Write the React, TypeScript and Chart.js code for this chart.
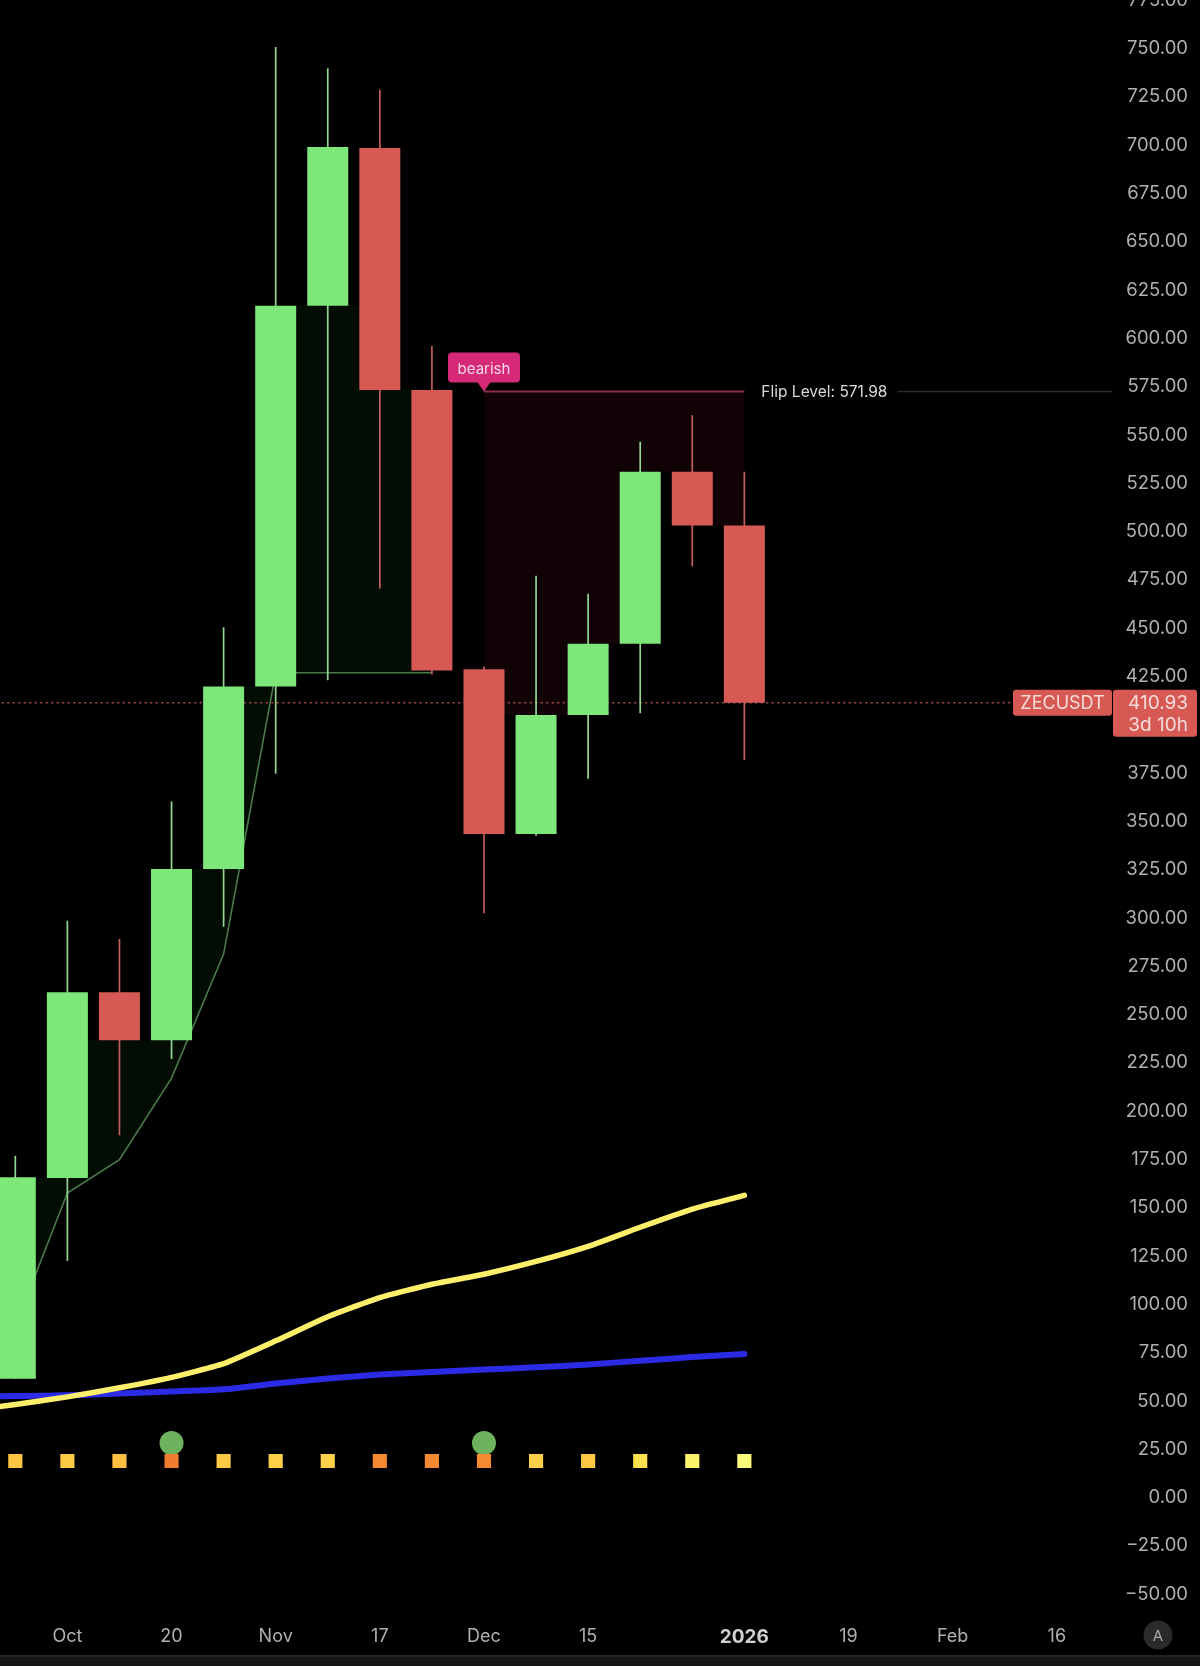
import { useEffect, useRef } from "react"
import { Chart, registerables } from "chart.js"

Chart.register(...registerables)

const candleIndex = [0, 1, 2, 3, 4, 5, 6, 7, 8, 9, 10, 11, 12, 13, 14]
const opens = [61, 164.9, 261, 236.2, 324.8, 419.3, 616.4, 698, 572.8, 428.2, 343, 404.6, 441.4, 530.5, 502.6]
const closes = [165.3, 261, 236.2, 324.8, 419.3, 616.4, 698.5, 572.8, 427.6, 343, 404.6, 441.4, 530.5, 502.6, 410.93]
const highs = [176.4, 298.1, 288.6, 359.8, 450, 750.3, 739.3, 728.2, 595.5, 429.6, 476.6, 467.3, 546, 559.7, 530.5]
const lows = [61, 121.9, 187, 226.5, 294.9, 374.2, 422.5, 470, 425.5, 302, 342, 371.5, 405.5, 481.5, 381.3]

const maFast = [47.7, 51.6, 56.3, 61.7, 68.8, 80.6, 93.1, 103, 109.9, 115.1, 121.7, 129.5, 139.4, 148.8, 155.9]
const maSlow = [52, 52.5, 53.3, 54.4, 55.5, 58.5, 61.1, 63.2, 64.5, 65.8, 66.9, 68.4, 70.3, 72.2, 73.8]
const maFastStart = 44.1
const maSlowStart = 52

const trendLine = [88, 157.1, 174.4, 216.6, 280.8, 426.4, 426.4, 426.4, 426.4]

const squareColors = [
  "#fcc644", "#fdca46", "#fdc040", "#f07c30", "#fdc844",
  "#fdd048", "#fdd24a", "#f58a33", "#f58a33", "#f58a33",
  "#fdd04a", "#fdc844", "#fde04e", "#fdf46e", "#fdf97a",
]
const signalIndex = [3, 9]

const flipLevel = 571.98
const flipStart = 9
const flipEnd = 14
const lastPrice = 410.93

const priceTicks = [
  -50, -25, 0, 25, 50, 75, 100, 125, 150, 175, 200, 225, 250, 275, 300, 325, 350, 375, 400,
  425, 450, 475, 500, 525, 550, 575, 600, 625, 650, 675, 700, 725, 750, 775,
]
const timeTickIndex = [1, 3, 5, 7, 9, 11, 14, 16, 18, 20]
const timeTickLabels = ["Oct", "20", "Nov", "17", "Dec", "15", "2026", "19", "Feb", "16"]

const GREEN = "#7de77a"
const RED = "#d65a53"
const FONT = "Inter"

const bodyLow = opens.map((o, i) => Math.min(o, closes[i]))
const bodyHigh = opens.map((o, i) => Math.max(o, closes[i]))
const candleColor = opens.map((o, i) => (closes[i] >= o ? GREEN : RED))
const wickColor = opens.map((o, i) => (closes[i] >= o ? "#93d690" : "#c0605c"))

// the clouds run between a line and the candle bodies, held flat across each gap
const bullEdge = trendLine.map((_, i) => Math.max(bodyLow[i], bodyLow[i + 1]))
const bearIndex = candleIndex.filter((i) => i >= flipStart && i <= flipEnd)
const bearEdge = bearIndex.map((i) => (i < flipEnd ? Math.min(bodyHigh[i], bodyHigh[i + 1]) : bodyHigh[i]))

// tags, labels and the bottom bar are not datasets
const overlay = {
  id: "overlay",
  afterDraw(chart: any) {
    const { ctx, scales, width, height } = chart
    const x = scales.x
    const y = scales.y
    ctx.save()

    // bottom bar
    ctx.fillStyle = "#161616"
    ctx.fillRect(0, height - 11, width, 11)
    ctx.fillStyle = "#242424"
    ctx.fillRect(0, height - 11, width, 2)

    // bearish marker
    const tipX = x.getPixelForValue(flipStart)
    const tipY = y.getPixelForValue(flipLevel)
    ctx.fillStyle = "#d62a78"
    ctx.beginPath()
    ctx.roundRect(tipX - 36, tipY - 39, 72, 30, 4)
    ctx.fill()
    ctx.beginPath()
    ctx.moveTo(tipX - 7, tipY - 10)
    ctx.lineTo(tipX, tipY)
    ctx.lineTo(tipX + 7, tipY - 10)
    ctx.fill()
    ctx.fillStyle = "#f6d5e4"
    ctx.font = `15px ${FONT}`
    ctx.textAlign = "center"
    ctx.textBaseline = "middle"
    ctx.fillText("bearish", tipX, tipY - 22)

    // flip level text
    ctx.fillStyle = "#d8d8d8"
    ctx.font = `15.5px ${FONT}`
    ctx.textAlign = "left"
    ctx.fillText("Flip Level: 571.98", x.getPixelForValue(flipEnd) + 17, tipY + 1)

    // last price tags
    const py = y.getPixelForValue(lastPrice)
    ctx.fillStyle = RED
    ctx.beginPath()
    ctx.roundRect(1013, py - 13, 99, 26, 3)
    ctx.fill()
    ctx.beginPath()
    ctx.roundRect(1113, py - 13, 84, 47, 3)
    ctx.fill()
    ctx.fillStyle = "#f5dcda"
    ctx.font = `18px ${FONT}`
    ctx.textAlign = "center"
    ctx.fillText("ZECUSDT", 1062.5, py + 1)
    ctx.font = `19px ${FONT}`
    ctx.textAlign = "right"
    ctx.fillText("410.93", 1188, py + 1)
    ctx.fillText("3d 10h", 1188, py + 23)

    // auto scale button
    const by = height - 31
    ctx.fillStyle = "#2a2a2a"
    ctx.beginPath()
    ctx.arc(1158, by, 14.5, 0, Math.PI * 2)
    ctx.fill()
    ctx.fillStyle = "#a8a8a8"
    ctx.font = `15px ${FONT}`
    ctx.textAlign = "center"
    ctx.fillText("A", 1158, by + 1)
    ctx.restore()
  },
}

const noScalePadding = (scale: any) => {
  scale.paddingLeft = 0
  scale.paddingRight = 0
  scale.paddingTop = 0
  scale.paddingBottom = 0
}

export default function App() {
  const chartRef = useRef<HTMLCanvasElement>(null)
  const chartInstance = useRef<Chart | null>(null)

  useEffect(() => {
    if (!chartRef.current) return
    document.body.style.margin = "0"
    document.body.style.background = "#000"

    const ctx = chartRef.current.getContext("2d")
    if (!ctx) return

    const lineBase = { type: "line" as const, pointRadius: 0, tension: 0, fill: false }

    chartInstance.current = new Chart(ctx, {
      type: "bar",
      data: {
        datasets: [
          {
            // 0: candle bodies
            label: "body",
            data: candleIndex.map((i) => ({ x: i, y: [opens[i], closes[i]] })),
            backgroundColor: candleColor,
            barThickness: 41,
            grouped: false,
            inflateAmount: 0,
            order: 3,
          },
          {
            // 1: wicks
            label: "wick",
            data: candleIndex.map((i) => ({ x: i, y: [lows[i], highs[i]] })),
            backgroundColor: wickColor,
            barThickness: 1.7,
            grouped: false,
            inflateAmount: 0,
            order: 4,
          },
          {
            // 2: upper edge of the green cloud
            ...lineBase,
            label: "bullEdge",
            data: bullEdge.map((v, i) => ({ x: i, y: v })),
            stepped: "before",
            borderWidth: 0,
            borderColor: "transparent",
            order: 9,
          },
          {
            ...lineBase,
            label: "trend",
            data: trendLine.map((v, i) => ({ x: i, y: v })),
            borderColor: "#4a7a4a",
            borderWidth: 1.6,
            fill: { target: 2, above: "#040d04", below: "#040d04" },
            order: 6,
          },
          {
            // 4: lower edge of the red cloud
            ...lineBase,
            label: "bearEdge",
            data: bearEdge.map((v, i) => ({ x: bearIndex[i], y: v })),
            stepped: "before",
            borderWidth: 0,
            borderColor: "transparent",
            order: 9,
          },
          {
            ...lineBase,
            label: "flip",
            data: bearIndex.map((i) => ({ x: i, y: flipLevel })),
            borderColor: "#8c2a4d",
            borderWidth: 2,
            fill: { target: 4, above: "#110206", below: "#110206" },
            order: 6,
          },
          {
            ...lineBase,
            label: "flipTail",
            data: [
              { x: 16.94, y: flipLevel },
              { x: 21.06, y: flipLevel },
            ],
            borderColor: "#2e2e2e",
            borderWidth: 1.5,
            order: 6,
          },
          {
            ...lineBase,
            label: "lastPrice",
            data: [
              { x: -1, y: lastPrice },
              { x: 21.1, y: lastPrice },
            ],
            borderColor: "#a9504c",
            borderWidth: 1.5,
            borderDash: [2, 3.5],
            order: 5,
          },
          {
            ...lineBase,
            label: "maSlow",
            data: [{ x: -1, y: maSlowStart }, ...maSlow.map((v, i) => ({ x: i, y: v }))],
            borderColor: "#2b2be6",
            borderWidth: 6,
            tension: 0.15,
            borderCapStyle: "round",
            borderJoinStyle: "round",
            order: 2,
          },
          {
            ...lineBase,
            label: "maFast",
            data: [{ x: -1, y: maFastStart }, ...maFast.map((v, i) => ({ x: i, y: v }))],
            borderColor: "#fdef6a",
            borderWidth: 5.5,
            tension: 0.15,
            borderCapStyle: "round",
            borderJoinStyle: "round",
            order: 1,
          },
          {
            ...lineBase,
            label: "signal",
            showLine: false,
            data: signalIndex.map((i) => ({ x: i, y: 27.7 })),
            pointRadius: 12,
            pointBackgroundColor: "#6db35f",
            pointBorderWidth: 0,
            order: 1,
          },
          {
            ...lineBase,
            label: "squares",
            showLine: false,
            data: candleIndex.map((i) => ({ x: i, y: 18.4 })),
            pointStyle: "rect",
            pointRadius: 10,
            pointBackgroundColor: squareColors,
            pointBorderWidth: 0,
            order: 0,
          },
        ] as any,
      },
      options: {
        responsive: false,
        animation: false,
        // far-aligned price labels end at the scale's right edge, so pull that edge in
        layout: { padding: { right: 12 }, autoPadding: false },
        plugins: { legend: { display: false }, tooltip: { enabled: false } },
        scales: {
          x: {
            type: "linear",
            offset: false,
            min: -0.294,
            max: 21.06,
            grid: { display: false },
            border: { display: false },
            afterFit: (scale: any) => {
              scale.height = 53.5
              noScalePadding(scale)
            },
            afterBuildTicks: (scale: any) => {
              scale.ticks = timeTickIndex.map((value) => ({ value }))
            },
            ticks: {
              autoSkip: false,
              maxRotation: 0,
              padding: 5,
              color: (c: any) => (c.index === 6 ? "#d0d0d0" : "#b0b0b0"),
              font: (c: any) =>
                c.index === 6
                  ? { family: FONT, size: 19, weight: "bold" }
                  : { family: FONT, size: 18, weight: "normal" },
              callback: (_v: any, i: number) => timeTickLabels[i],
            },
          },
          y: {
            type: "linear",
            position: "right",
            min: -60,
            max: 785,
            grid: { display: false },
            border: { display: false },
            afterFit: (scale: any) => {
              scale.width = 76
              noScalePadding(scale)
            },
            afterBuildTicks: (scale: any) => {
              scale.ticks = priceTicks.map((value) => ({ value }))
            },
            ticks: {
              autoSkip: false,
              crossAlign: "far",
              labelOffset: 1,
              color: "#b0b0b0",
              font: { family: FONT, size: 18.5 },
              callback: (v: any) => (v < 0 ? "−" + Math.abs(v).toFixed(2) : Number(v).toFixed(2)),
            },
          },
        },
      } as any,
      plugins: [overlay],
    })

    return () => {
      if (chartInstance.current) {
        chartInstance.current.destroy()
      }
    }
  }, [])

  return (
    <div style={{ position: "relative", width: 1200, height: 1666, overflow: "hidden", background: "#000" }}>
      <canvas ref={chartRef} width={1200} height={1686} style={{ position: "absolute", top: -20, left: 0 }} />
    </div>
  )
}
